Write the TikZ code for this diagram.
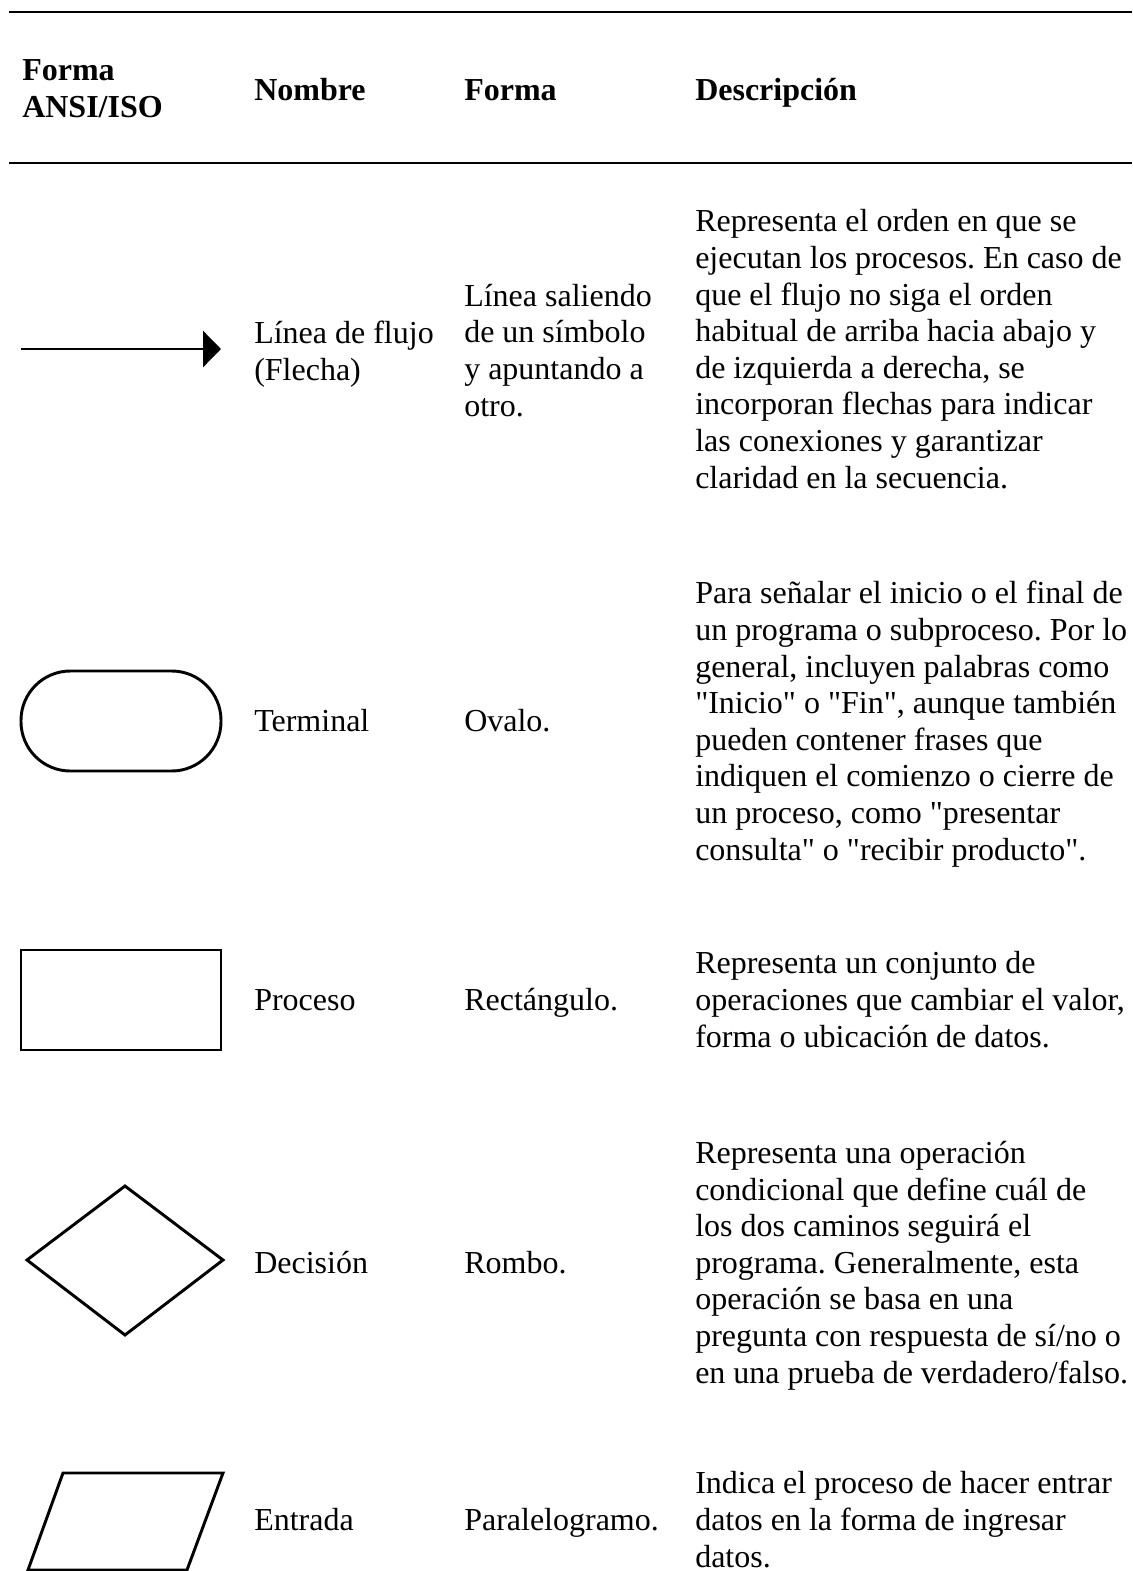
\documentclass[tikz,border=0pt]{standalone}
\usepackage{fontspec}
\setmainfont{Liberation Serif}[Ligatures=TeXOff]
\usetikzlibrary{arrows.meta}
\frenchspacing

\begin{document}
\begin{tikzpicture}[x=0.75pt,y=-0.75pt,
  texto/.style={anchor=base west, align=left, inner sep=0pt, font=\fontsize{24}{27.45}\selectfont},
  titulo/.style={texto, font=\fontsize{24}{27.45}\selectfont\bfseries},
  regla/.style={line width=1.6pt},
  figura/.style={line width=2.2pt, line join=miter}]
  \useasboundingbox (0,0) rectangle (1132,1571);
  % reglas de la tabla
  \foreach \y in {12,163}{
    \draw[regla] (9,\y)--(1132,\y);
  }
  % encabezado (base = ultima linea)
  \node[titulo] (hAnsi) at (22,117) {Forma\\ANSI/ISO};
  \node[titulo] (hNombre) at (254,100) {Nombre};
  \node[titulo] (hForma) at (464,100) {Forma};
  \node[titulo] (hDesc) at (695,100) {Descripción};
  % flecha
  \coordinate (flujoIni) at (21,349);
  \coordinate (flujoFin) at (221,349);
  \draw[figura,-{Triangle[length=13.5pt,width=27pt]}] (flujoIni)--(flujoFin);
  \node[texto] (nom1) at (254,380) {Línea de flujo\\(Flecha)};
  \node[texto] (forma1) at (464,416) {Línea saliendo\\de un símbolo\\y apuntando a\\otro.};
  \node[texto] (desc1) at (695,488) {Representa el orden en que se\\ejecutan los procesos. En caso de\\que el flujo no siga el orden\\habitual de arriba hacia abajo y\\de izquierda a derecha, se\\incorporan flechas para indicar\\las conexiones y garantizar\\claridad en la secuencia.};
  % terminal
  \draw[figura,rounded corners=37pt] (21,671) rectangle (221,771);
  \node[texto] (nom2) at (254,731) {Terminal};
  \node[texto] (forma2) at (464,731) {Ovalo.};
  \node[texto] (desc2) at (695,860) {Para señalar el inicio o el final de\\un programa o subproceso. Por lo\\general, incluyen palabras como\\"Inicio" o "Fin", aunque también\\pueden contener frases que\\indiquen el comienzo o cierre de\\un proceso, como "presentar\\consulta" o "recibir producto".};
  % proceso
  \draw[figura] (21,950) rectangle (221,1050);
  \node[texto] (nom3) at (254,1010) {Proceso};
  \node[texto] (forma3) at (464,1010) {Rectángulo.};
  \node[texto] (desc3) at (695,1047) {Representa un conjunto de\\operaciones que cambiar el valor,\\forma o ubicación de datos.};
  % decision
  \draw[figura] (27,1260)--(125,1186)--(223,1260)--(125,1335)--cycle;
  \node[texto] (nom4) at (254,1273) {Decisión};
  \node[texto] (forma4) at (464,1273) {Rombo.};
  \node[texto] (desc4) at (695,1383) {Representa una operación\\condicional que define cuál de\\los dos caminos seguirá el\\programa. Generalmente, esta\\operación se basa en una\\pregunta con respuesta de sí/no o\\en una prueba de verdadero/falso.};
  % entrada
  \draw[figura] (63,1473)--(223,1473)--(187,1570)--(28,1570)--cycle;
  \node[texto] (nom5) at (254,1530) {Entrada};
  \node[texto] (forma5) at (464,1530) {Paralelogramo.};
  \node[texto] (desc5) at (695,1567) {Indica el proceso de hacer entrar\\datos en la forma de ingresar\\datos.};
\end{tikzpicture}
\end{document}
